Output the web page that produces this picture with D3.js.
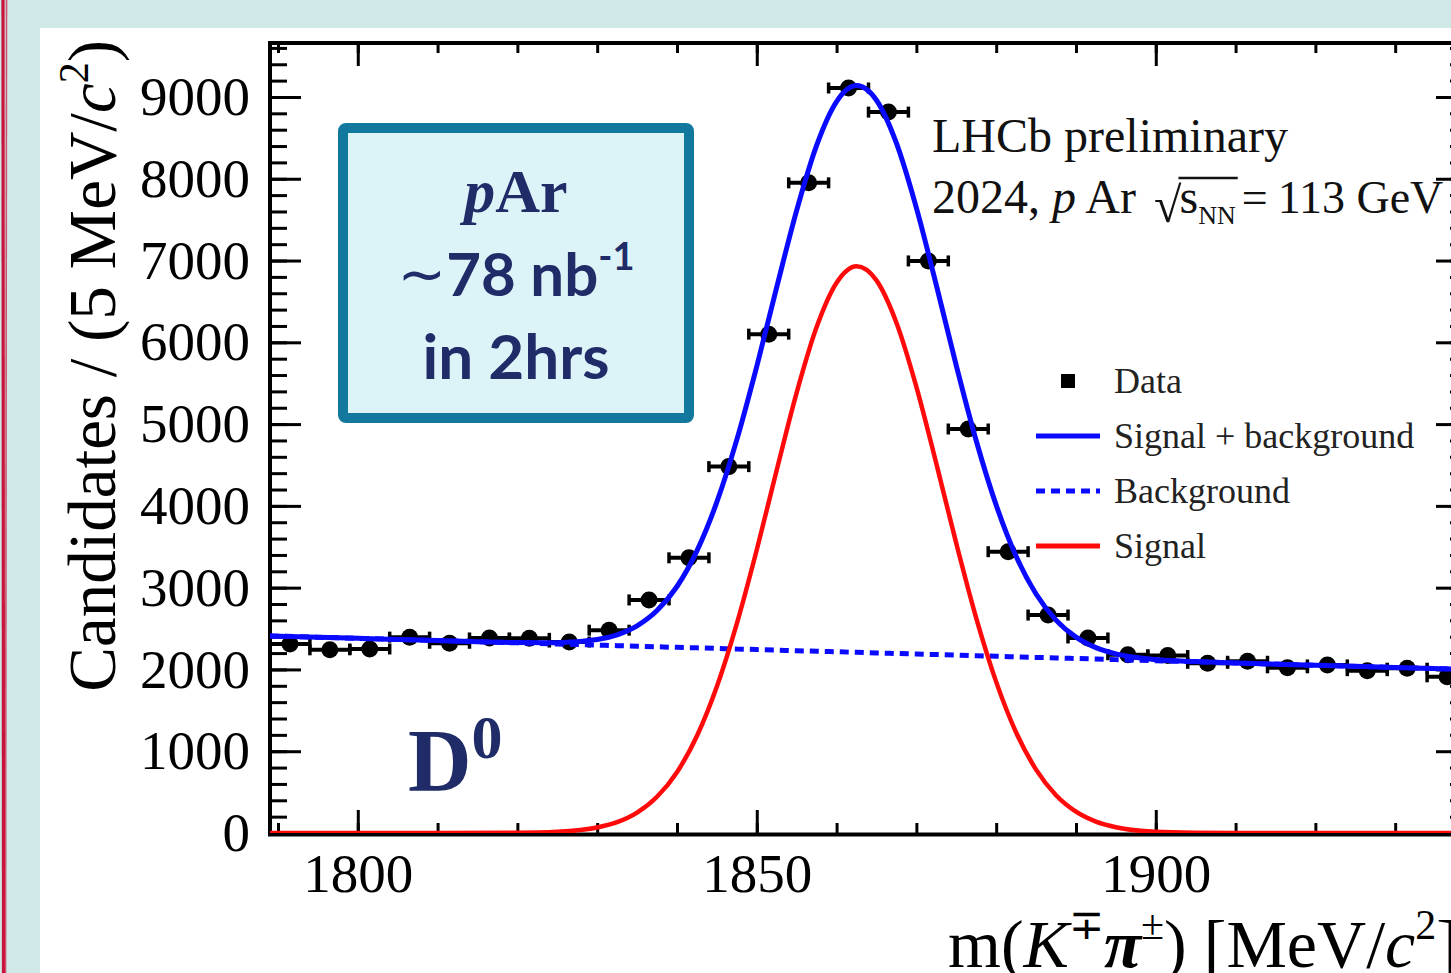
<!DOCTYPE html>
<html>
<head>
<meta charset="utf-8">
<script src="https://cdn.jsdelivr.net/npm/d3@7"></script>
<style>
  html, body { margin: 0; padding: 0; background: #cfe8e8; overflow: hidden; }
  svg { display: block; }
  text { white-space: pre; }
</style>
</head>
<body>
<svg id="chart" width="1451" height="973"></svg>
<script>
// ---- D0 -> K pi invariant-mass spectrum, pAr 2024 ----

// Bin centres (5 MeV bins) and candidate counts
const binCenters = [1791.5, 1796.5, 1801.5, 1806.5, 1811.5, 1816.5, 1821.5, 1826.5, 1831.5, 1836.5,
                    1841.5, 1846.5, 1851.5, 1856.5, 1861.5, 1866.5, 1871.5, 1876.5, 1881.5, 1886.5,
                    1891.5, 1896.5, 1901.5, 1906.5, 1911.5, 1916.5, 1921.5, 1926.5, 1931.5, 1936.5];
const candidates = [2310, 2240, 2250, 2395, 2320, 2385, 2380, 2335, 2480, 2850,
                    3365, 4480, 6100, 7950, 9110, 8815, 6995, 4940, 3440, 2665,
                    2385, 2180, 2170, 2075, 2100, 2020, 2055, 1985, 2015, 1910];
const binHalfWidth = 2.5;

// Fit components tabulated along the mass axis
const fitMass = [1789, 1800, 1810, 1820, 1825, 1830, 1832.5, 1835, 1837.5, 1840, 1842.5, 1845,
                 1847.5, 1850, 1852.5, 1855, 1857.5, 1860, 1862.5, 1865, 1867.5, 1870, 1872.5,
                 1875, 1877.5, 1880, 1882.5, 1885, 1887.5, 1890, 1892.5, 1895, 1900, 1905,
                 1910, 1920, 1930, 1939];
const fitSignal = [0, 0, 0, 3, 15, 67, 132, 249, 443, 744, 1186, 1791,
                   2560, 3464, 4439, 5385, 6186, 6728, 6930, 6758, 6240, 5456, 4517,
                   3541, 2628, 1848, 1229, 775, 462, 261, 140, 71, 15, 3,
                   0, 0, 0, 0];
const fitBackground = [2410, 2380, 2353, 2325, 2311, 2298, 2291, 2284, 2277, 2270, 2264, 2257,
                       2250, 2243, 2236, 2229, 2223, 2216, 2209, 2202, 2195, 2188, 2182,
                       2175, 2168, 2161, 2154, 2147, 2141, 2134, 2127, 2120, 2106, 2093,
                       2079, 2052, 2024, 2000];

// Axis ticks
const xTickLabels = [1800, 1850, 1900];
const xMinorTicks = [1790, 1800, 1810, 1820, 1830, 1840, 1850, 1860, 1870, 1880, 1890, 1900, 1910, 1920, 1930];
const yTickLabels = [0, 1000, 2000, 3000, 4000, 5000, 6000, 7000, 8000, 9000];
const yMinorStep = 200;

// Legend entries
const legendLabels = ["Data", "Signal + background", "Background", "Signal"];

// ---- layout ----
const W = 1451, H = 973;
const plot = { left: 270, right: 1467, top: 43, bottom: 833 };
const serif = "'Liberation Serif', 'Times New Roman', serif";
const navy = "#1f2c68";
const blue = "#0a0aff";
const red = "#ff0a0a";

const svg = d3.select("#chart");

// slide background, white panel and red margin rule
svg.append("rect").attr("x", 0).attr("y", 0).attr("width", W).attr("height", H).attr("fill", "#cfe8e8");
svg.append("rect").attr("x", 40).attr("y", 28).attr("width", W - 40).attr("height", H - 28).attr("fill", "#ffffff");
svg.append("line").attr("x1", 3).attr("x2", 3.5).attr("y1", 0).attr("y2", H)
   .attr("stroke", "#c8143c").attr("stroke-width", 3.2);
svg.append("line").attr("x1", 6.5).attr("x2", 5.5).attr("y1", 0).attr("y2", H)
   .attr("stroke", "#d0304f").attr("stroke-width", 1.6).attr("opacity", 0.8);

const x = d3.scaleLinear().domain([1789, 1939]).range([plot.left, plot.right]);
const y = d3.scaleLinear().domain([0, 9660]).range([plot.bottom, plot.top]);

const yMinorTicks = d3.range(0, 9660, yMinorStep);

// ---- axes (ticks point into the frame) ----
function styleAxis(g) {
  g.select(".domain").remove();
  g.selectAll(".tick line").attr("stroke", "#000").attr("stroke-width", 3);
  g.selectAll(".tick text").attr("font-family", serif).attr("font-size", 55).attr("fill", "#000");
}

// minor ticks
svg.append("g").attr("transform", `translate(0,${plot.bottom})`)
  .call(d3.axisBottom(x).tickValues(xMinorTicks).tickSize(-10).tickFormat(""))
  .call(styleAxis);
svg.append("g").attr("transform", `translate(0,${plot.top})`)
  .call(d3.axisTop(x).tickValues(xMinorTicks).tickSize(-10).tickFormat(""))
  .call(styleAxis);
svg.append("g").attr("transform", `translate(${plot.left},0)`)
  .call(d3.axisLeft(y).tickValues(yMinorTicks).tickSize(-17).tickFormat(""))
  .call(styleAxis);
svg.append("g").attr("transform", `translate(${plot.right},0)`)
  .call(d3.axisRight(y).tickValues(yMinorTicks).tickSize(-17).tickFormat(""))
  .call(styleAxis);

// major ticks with labels
svg.append("g").attr("transform", `translate(0,${plot.bottom})`)
  .call(d3.axisBottom(x).tickValues(xTickLabels).tickSize(-23).tickPadding(20).tickFormat(d3.format("d")))
  .call(styleAxis);
svg.append("g").attr("transform", `translate(0,${plot.top})`)
  .call(d3.axisTop(x).tickValues(xTickLabels).tickSize(-23).tickFormat(""))
  .call(styleAxis);
svg.append("g").attr("transform", `translate(${plot.left},0)`)
  .call(d3.axisLeft(y).tickValues(yTickLabels).tickSize(-31).tickPadding(20).tickFormat(d3.format("d")))
  .call(styleAxis);
svg.append("g").attr("transform", `translate(${plot.right},0)`)
  .call(d3.axisRight(y).tickValues(yTickLabels).tickSize(-31).tickFormat(""))
  .call(styleAxis);

// frame
svg.append("rect")
  .attr("x", plot.left).attr("y", plot.top)
  .attr("width", plot.right - plot.left).attr("height", plot.bottom - plot.top + 1.5)
  .attr("fill", "none").attr("stroke", "#000").attr("stroke-width", 4);

// ---- axis titles ----
const yTitle = svg.append("text")
  .attr("transform", "translate(115,40) rotate(-90)")
  .attr("text-anchor", "end")
  .attr("font-family", serif).attr("font-size", 67).attr("fill", "#000");
yTitle.append("tspan").text("Candidates / (5 MeV/");
yTitle.append("tspan").attr("font-style", "italic").text("c");
yTitle.append("tspan").attr("font-size", 42).attr("dy", -27).text("2");
yTitle.append("tspan").attr("dy", 27).text(")");

const xTitle = svg.append("text")
  .attr("x", 948).attr("y", 967)
  .attr("font-family", serif).attr("font-size", 68).attr("fill", "#000");
xTitle.append("tspan").text("m(");
xTitle.append("tspan").attr("font-style", "italic").text("K");
xTitle.append("tspan").attr("font-size", 42).attr("dy", -28).text("∓");
xTitle.append("tspan").attr("font-style", "italic").attr("font-weight", "bold").attr("dy", 28).text("π");
xTitle.append("tspan").attr("font-size", 42).attr("dy", -28).text("±");
xTitle.append("tspan").attr("dy", 28).text(") [MeV/");
xTitle.append("tspan").attr("font-style", "italic").text("c");
xTitle.append("tspan").attr("font-size", 42).attr("dy", -28).text("2");
xTitle.append("tspan").attr("dy", 28).text("]");

// ---- data points with bin-width error bars ----
svg.append("clipPath").attr("id", "plot-clip")
  .append("rect").attr("x", plot.left).attr("y", plot.top)
  .attr("width", plot.right - plot.left).attr("height", plot.bottom - plot.top);

const pts = svg.append("g").attr("clip-path", "url(#plot-clip)");
const points = binCenters.map((m, i) => ({ m, n: candidates[i] }));

pts.selectAll("line.xerr").data(points).join("line").attr("class", "xerr")
  .attr("x1", d => x(d.m - binHalfWidth)).attr("x2", d => x(d.m + binHalfWidth))
  .attr("y1", d => y(d.n)).attr("y2", d => y(d.n))
  .attr("stroke", "#000").attr("stroke-width", 4);
pts.selectAll("line.capl").data(points).join("line").attr("class", "capl")
  .attr("x1", d => x(d.m - binHalfWidth)).attr("x2", d => x(d.m - binHalfWidth))
  .attr("y1", d => y(d.n) - 5.5).attr("y2", d => y(d.n) + 5.5)
  .attr("stroke", "#000").attr("stroke-width", 3.5);
pts.selectAll("line.capr").data(points).join("line").attr("class", "capr")
  .attr("x1", d => x(d.m + binHalfWidth)).attr("x2", d => x(d.m + binHalfWidth))
  .attr("y1", d => y(d.n) - 5.5).attr("y2", d => y(d.n) + 5.5)
  .attr("stroke", "#000").attr("stroke-width", 3.5);
pts.selectAll("circle").data(points).join("circle")
  .attr("cx", d => x(d.m)).attr("cy", d => y(d.n)).attr("r", 8.5)
  .attr("fill", "#000");

// ---- fit curves ----
const fitRows = fitMass.map((m, i) => ({
  m, sig: fitSignal[i], bkg: fitBackground[i], tot: fitSignal[i] + fitBackground[i]
}));
const curves = svg.append("g").attr("clip-path", "url(#plot-clip)").attr("fill", "none");
const lineOf = key => d3.line().x(d => x(d.m)).y(d => y(d[key])).curve(d3.curveMonotoneX);

curves.append("path").datum(fitRows).attr("d", lineOf("bkg"))
  .attr("stroke", blue).attr("stroke-width", 5).attr("stroke-dasharray", "9 6");
curves.append("path").datum(fitRows).attr("d", lineOf("sig"))
  .attr("stroke", red).attr("stroke-width", 4.5);
curves.append("path").datum(fitRows).attr("d", lineOf("tot"))
  .attr("stroke", blue).attr("stroke-width", 5);

// ---- legend ----
const legend = svg.append("g").attr("font-family", serif).attr("font-size", 36).attr("fill", "#222");
const legY = [381, 436, 491, 546];
legend.append("rect").attr("x", 1061).attr("y", legY[0] - 7).attr("width", 14).attr("height", 14).attr("fill", "#000");
legend.append("line").attr("x1", 1036).attr("x2", 1100).attr("y1", legY[1]).attr("y2", legY[1])
  .attr("stroke", blue).attr("stroke-width", 5);
legend.append("line").attr("x1", 1036).attr("x2", 1100).attr("y1", legY[2]).attr("y2", legY[2])
  .attr("stroke", blue).attr("stroke-width", 5).attr("stroke-dasharray", "9 6");
legend.append("line").attr("x1", 1036).attr("x2", 1100).attr("y1", legY[3]).attr("y2", legY[3])
  .attr("stroke", red).attr("stroke-width", 5);
legend.selectAll("text").data(legendLabels).join("text")
  .attr("x", 1114).attr("y", (d, i) => legY[i] + 12).text(d => d);

// ---- experiment label ----
const info = svg.append("g").attr("font-family", serif).attr("font-size", 48).attr("fill", "#111");
info.append("text").attr("x", 932).attr("y", 152).text("LHCb preliminary");
let cx = 932;
const l2 = info.append("text").attr("x", cx).attr("y", 213);
l2.append("tspan").text("2024, ");
l2.append("tspan").attr("font-style", "italic").text("p");
l2.append("tspan").text(" Ar ");
cx += l2.node().getComputedTextLength() + 6;
const rad = info.append("text").attr("x", cx).attr("y", 222).attr("font-size", 50).text("√");
cx += rad.node().getComputedTextLength() - 3;
const sn = info.append("text").attr("x", cx + 1).attr("y", 213);
sn.append("tspan").text("s");
sn.append("tspan").attr("font-size", 26).attr("dy", 11).text("NN");
const snEnd = cx + 1 + sn.node().getComputedTextLength();
info.append("line").attr("x1", cx).attr("x2", snEnd + 2).attr("y1", 178).attr("y2", 178)
  .attr("stroke", "#111").attr("stroke-width", 2.5);
const eq = info.append("text").attr("x", snEnd + 6).attr("y", 213).attr("font-size", 46);
eq.append("tspan").text("=");
eq.append("tspan").attr("dx", 10).text("113 GeV");

// ---- luminosity box ----
svg.append("rect").attr("x", 343).attr("y", 128).attr("width", 346).attr("height", 290)
  .attr("rx", 3).attr("fill", "#dcf3f8").attr("stroke", "#12789e").attr("stroke-width", 10);
const boxText = svg.append("g").attr("fill", navy).attr("text-anchor", "middle");
const t1 = boxText.append("text").attr("x", 516).attr("y", 212)
  .attr("font-family", serif).attr("font-size", 62).attr("font-weight", "bold");
t1.append("tspan").attr("font-style", "italic").text("p");
t1.append("tspan").text("Ar");
const t2 = boxText.append("text").attr("x", 516).attr("y", 296)
  .attr("font-family", "Lato, 'Open Sans', sans-serif").attr("font-size", 60).attr("font-weight", "bold");
t2.append("tspan").attr("font-family", "'DejaVu Sans', sans-serif").attr("font-weight", "normal")
  .attr("font-size", 58).attr("dy", -2).text("∼");
t2.append("tspan").attr("dy", 2).text("78 nb");
t2.append("tspan").attr("font-size", 38).attr("dy", -26).text("-1");
boxText.append("text").attr("x", 516).attr("y", 379)
  .attr("font-family", "Lato, 'Open Sans', sans-serif").attr("font-size", 62).attr("font-weight", "bold")
  .text("in 2hrs");

// ---- particle label ----
const dLab = svg.append("text").attr("x", 408).attr("y", 790)
  .attr("font-family", serif).attr("font-weight", "bold").attr("fill", navy).attr("font-size", 88);
dLab.append("tspan").text("D");
dLab.append("tspan").attr("font-size", 62).attr("dy", -32).text("0");
</script>
</body>
</html>
